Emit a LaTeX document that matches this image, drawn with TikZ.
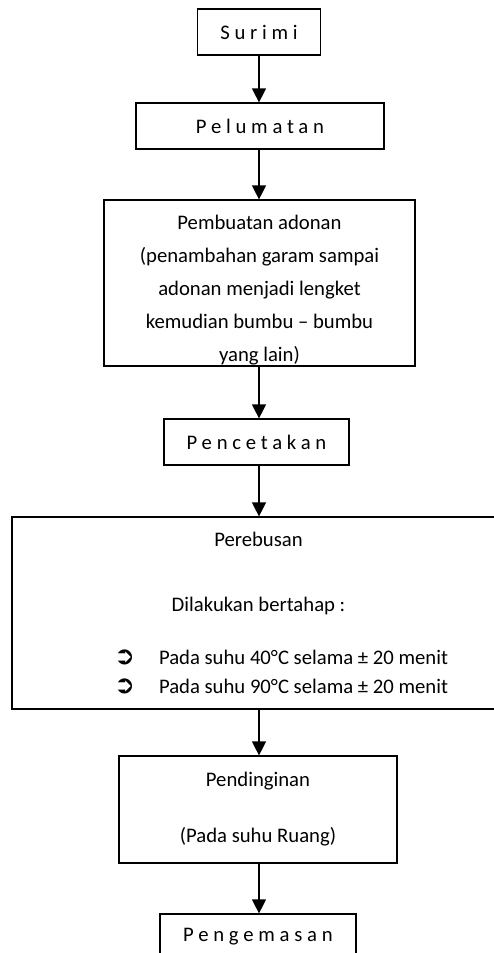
\documentclass[tikz,border=0pt]{standalone}
\usepackage{fontspec}
\setmainfont{Carlito}
\newfontfamily\symfont{DejaVu Sans}
\usetikzlibrary{arrows.meta}
\newcommand{\rebusmark}{{\symfont\bfseries\fontsize{25}{25}\selectfont ➲}}

\begin{document}
\begin{tikzpicture}[x=1pt,y=-1pt,
  box/.style={draw,line width=1.2pt,align=center,inner sep=0pt,font=\fontsize{20.7}{32}\selectfont},
  spaced/.style={font=\fontsize{20.7}{32}\selectfont\addfontfeature{LetterSpace=23}},
  flow/.style={line width=1.2pt,-{Triangle[width=14pt,length=14pt]}}]
\useasboundingbox (0,0) rectangle (494,953);
\node[box,spaced,minimum width=123,minimum height=46] (surimi) at (259,32) {Surimi};
\node[box,spaced,minimum width=248,minimum height=46] (pelumatan) at (260,126) {Pelumatan};
\node[box,minimum width=311,minimum height=166,font=\fontsize{20.7}{33}\selectfont] (adonan) at (259.5,283) {\rule{0pt}{28pt}Pembuatan adonan\\(penambahan garam sampai\\adonan menjadi lengket\\kemudian bumbu – bumbu\\yang lain)};
\node[box,spaced,minimum width=185,minimum height=46] (pencetakan) at (256.5,442) {Pencetakan};
\node[box,minimum width=493,minimum height=192] (perebusan) at (258.5,613) {Perebusan\\[33pt]Dilakukan bertahap :\\[21pt]
  \hspace*{45pt}\makebox[45pt][l]{\rebusmark}Pada suhu 40°C selama ± 20 menit\\[-3pt]
  \hspace*{45pt}\makebox[45pt][l]{\rebusmark}Pada suhu 90°C selama ± 20 menit};
\node[box,minimum width=278,minimum height=107] (pendinginan) at (258,809.5) {Pendinginan\\[24pt](Pada suhu Ruang)};
\node[box,spaced,minimum width=196,minimum height=46] (pengemasan) at (258,937) {Pengemasan};
\draw[flow] (surimi) -- (surimi |- pelumatan.north);
\draw[flow] (surimi |- pelumatan.south) -- (surimi |- adonan.north);
\draw[flow] (surimi |- adonan.south) -- (surimi |- pencetakan.north);
\draw[flow] (surimi |- pencetakan.south) -- (surimi |- perebusan.north);
\draw[flow] (surimi |- perebusan.south) -- (surimi |- pendinginan.north);
\draw[flow] (surimi |- pendinginan.south) -- (surimi |- pengemasan.north);
\end{tikzpicture}
\end{document}
